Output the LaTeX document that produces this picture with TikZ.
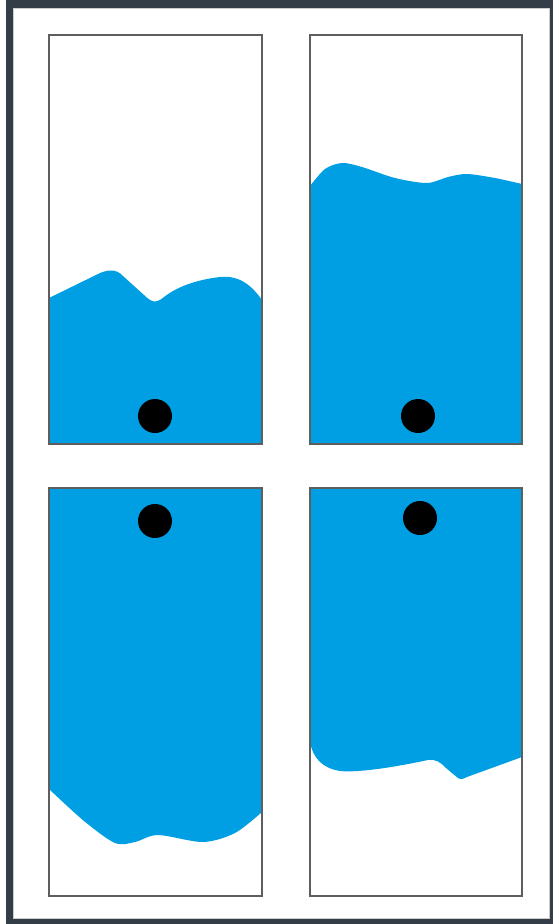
\documentclass[tikz,border=0pt]{standalone}
\usepackage{xcolor}
\usepackage{tikz}
\usetikzlibrary{calc}
\definecolor{framegray}{HTML}{323D47}
\definecolor{tankgray}{HTML}{5E5E5E}
\definecolor{waterblue}{HTML}{009FE3}
\tikzset{
  tank/.style={draw=tankgray,line width=1.3pt},
  water/.style={fill=waterblue},
  ball/.style={fill=black},
  surfline/.style={smooth,tension=0.5}
}

\begin{document}
\begin{tikzpicture}[x=1pt,y=-1pt]
  \useasboundingbox (0,0) rectangle (553,924);
  % outer frame
  \fill[framegray,even odd rule] (6,0) rectangle (553,924) (13,8) rectangle (550,919);
  \draw[gray!40,line width=0.6pt] (13.5,8.5) rectangle (549.5,918.5);
  % tank corners
  \coordinate (TL) at (49,35);   \coordinate (TLb) at (262,444);
  \coordinate (TR) at (310,35);  \coordinate (TRb) at (522,444);
  \coordinate (BL) at (49,488);  \coordinate (BLb) at (262,896);
  \coordinate (BR) at (310,488); \coordinate (BRb) at (522,896);
  % water, upright tanks
  \fill[water] (49,298) -- (98,274) .. controls (106,270) and (116,268) .. (123,276)
    -- (144,295) .. controls (151,302) and (156,304) .. (164,297)
    .. controls (177,287) and (195,280) .. (220,277) .. controls (240,275) and (252,286) .. (262,300)
    -- (262,444) -- (49,444) -- cycle;
  \fill[water] plot[surfline] coordinates {(310,186) (325,169) (342,163) (362,167) (395,178) (427,183) (448,177) (467,174) (495,178) (522,184)}
    -- (522,444) -- (310,444) -- cycle;
  % water, inverted tanks
  \fill[water] (49,488) -- plot[surfline] coordinates {(49,789) (84,821) (115,843) (135,842) (158,835) (203,842) (235,833) (262,812)}
    -- (262,488) -- cycle;
  \fill[water] (310,488) -- (310,742) .. controls (313,758) and (322,768) .. (340,771)
    .. controls (360,773) and (400,766) .. (428,760) .. controls (436,759) and (440,762) .. (446,768)
    -- (458,778) .. controls (461,780) and (463,779) .. (467,777) -- (522,757)
    -- (522,488) -- cycle;
  % tanks
  \foreach \a/\b in {TL/TLb,TR/TRb,BL/BLb,BR/BRb}{
    \draw[tank] (\a) rectangle (\b);
  }
  % balls
  \foreach \p in {(155,416),(418,416),(155,521),(420,518)}{
    \fill[ball] \p circle (17);
  }
\end{tikzpicture}
\end{document}
